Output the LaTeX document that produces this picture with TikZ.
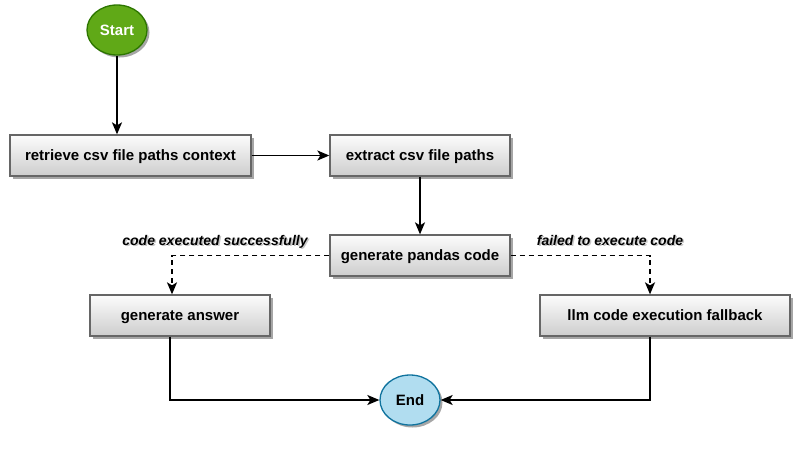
\documentclass[tikz,border=0pt]{standalone}
\usepackage{fontspec}
\setmainfont{Liberation Sans}
\usetikzlibrary{arrows.meta,shapes.geometric,shadows,positioning}
\definecolor{startfill}{HTML}{60A917}
\definecolor{startdraw}{HTML}{2D7600}
\definecolor{endfill}{HTML}{B1DDF0}
\definecolor{enddraw}{HTML}{10739E}
\definecolor{boxdraw}{HTML}{666666}
\definecolor{boxtop}{HTML}{FCFCFC}
\definecolor{boxbot}{HTML}{CDCDCD}
\newcommand{\shtext}[1]{\makebox[0pt][l]{\hspace{1.5pt}\raisebox{-1.5pt}{\color{black!22}#1}}#1}
\tikzset{
  procbox/.style={draw=boxdraw, line width=1.3pt, top color=boxtop, bottom color=boxbot,
    minimum height=41pt, inner sep=0pt, font=\fontsize{15}{17}\selectfont\bfseries,
    text height=12pt, text depth=2pt,
    drop shadow={shadow xshift=2.5pt, shadow yshift=-2.5pt, opacity=0.35, fill=black}},
  termstart/.style={ellipse, draw=startdraw, fill=startfill, line width=1.3pt,
    minimum width=60pt, minimum height=50pt, inner sep=0pt, text=white,
    font=\fontsize{15}{17}\selectfont\bfseries,
    drop shadow={shadow xshift=2.5pt, shadow yshift=-2.5pt, opacity=0.35, fill=black}},
  termend/.style={ellipse, draw=enddraw, fill=endfill, line width=1.3pt,
    minimum width=60pt, minimum height=50pt, inner sep=0pt,
    font=\fontsize{15}{17}\selectfont\bfseries,
    drop shadow={shadow xshift=2.5pt, shadow yshift=-2.5pt, opacity=0.35, fill=black}},
  conn/.style={line width=1.6pt, -{Stealth[length=12pt,width=10pt,inset=3pt]}},
  dconn/.style={conn, dash pattern=on 5pt off 4pt},
  elabel/.style={font=\fontsize{14}{16}\selectfont\bfseries\itshape, text height=10pt, text depth=3pt}
}
\begin{document}
\begin{tikzpicture}[x=1pt,y=-1pt]
\useasboundingbox (0,0) rectangle (811,466);
\node[termstart] (start) at (117,30) {Start};
\node[procbox, minimum width=241pt] (retrieve) at (130.5,155.5) {retrieve csv file paths context};
\node[procbox, minimum width=180pt] (extract) at (420,155.5) {extract csv file paths};
\node[procbox, minimum width=180pt] (pandas) at (420,255.5) {generate pandas code};
\node[procbox, minimum width=180pt] (answer) at (180,315.5) {generate answer};
\node[procbox, minimum width=250pt] (fallback) at (665,315.5) {llm code execution fallback};
\node[termend] (end) at (410,400) {End};
\draw[conn] (start.south) -- (retrieve.north -| start.south);
\draw[conn] (retrieve.east) -- (extract.west);
\draw[conn] (extract.south) -- (pandas.north);
\coordinate (ans) at (172,295);
\coordinate (fb) at (650,295);
\draw[dconn] (pandas.west) -| (answer.north -| ans);
\draw[dconn] (pandas.east) -| (fallback.north -| fb);
\node[elabel] (l1) at (215,241.5) {\shtext{code executed successfully}};
\node[elabel] (l2) at (610,241.5) {\shtext{failed to execute code}};
\coordinate (a2) at (170,336);
\coordinate (f2) at (650,336);
\draw[conn] (answer.south -| a2) |- (end.west);
\draw[conn] (fallback.south -| f2) |- (end.east);
\end{tikzpicture}
\end{document}
